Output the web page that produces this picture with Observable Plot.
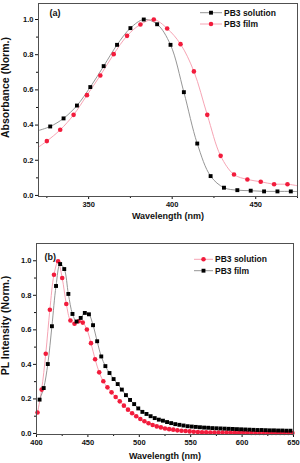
<!DOCTYPE html>
<html><head><meta charset="utf-8">
<script src="https://cdn.jsdelivr.net/npm/d3@7"></script>
<script src="https://cdn.jsdelivr.net/npm/@observablehq/plot@0.6"></script>
<style>
body{margin:0;background:#fff;}
#chart{width:300px;height:463px;overflow:hidden;}
svg{display:block;}
</style></head><body><div id="chart"></div>
<script>
// ---------- Panel (a): absorbance ----------
const absSolutionWavelength = [327,335,343,351,359,367,375,383,391,399,407,415,423,431,439,447,455,463,471];
const absSolution = [0.392,0.438,0.511,0.616,0.735,0.856,0.951,1.0,0.973,0.856,0.587,0.295,0.110,0.044,0.030,0.027,0.023,0.023,0.023];
const absFilmWavelength = [325,333,341,349,357,365,373,381,389,397,405,413,421,429,437,445,453,461,469];
const absFilm = [0.309,0.373,0.458,0.570,0.682,0.803,0.907,0.972,1.0,0.949,0.860,0.705,0.458,0.225,0.119,0.091,0.078,0.064,0.064];
// curve continuation to the frame edges (wavelength, value)
const absSolutionEnds = [[320,0.369],[475,0.022]];
const absFilmEnds = [[320,0.275],[475,0.055]];

// ---------- Panel (b): photoluminescence ----------
const plSolutionWavelength = [401,405,409,413,417,421,425,429,433,437,441,445,449,453,457,461,465,469,473,477,481,485,489,493,497,501,505,509,513,517,521,525,529,533,537,541,545,549,553,557,561,565,569,573,577,581,585,589,593,597,601,605,609,613,617,621,625,629,633,637,641,645,649];
const plSolution = [0.121,0.254,0.462,0.716,0.919,0.997,0.900,0.750,0.654,0.635,0.650,0.642,0.602,0.523,0.430,0.354,0.302,0.267,0.238,0.211,0.186,0.161,0.138,0.117,0.100,0.084,0.071,0.059,0.049,0.041,0.035,0.029,0.025,0.022,0.018,0.016,0.014,0.012,0.010,0.008,0.007,0.007,0.006,0.006,0.005,0.005,0.005,0.004,0.004,0.004,0.004,0.004,0.003,0.003,0.003,0.003,0.003,0.003,0.003,0.003,0.003,0.003,0.003];
const plFilmWavelength = [403,407,411,415,419,423,427,431,435,439,443,447,451,455,459,463,467,471,475,479,483,487,491,495,499,503,507,511,515,519,523,527,531,535,539,543,547,551,555,559,563,567,571,575,579,583,587,591,595,599,603,607,611,615,619,623,627,631,635,639,643,647];
const plFilm = [0.196,0.263,0.402,0.621,0.854,0.981,0.952,0.808,0.692,0.648,0.669,0.698,0.690,0.627,0.534,0.446,0.390,0.350,0.315,0.286,0.254,0.222,0.194,0.170,0.145,0.125,0.113,0.100,0.089,0.080,0.074,0.066,0.060,0.054,0.050,0.046,0.042,0.040,0.038,0.036,0.034,0.033,0.031,0.030,0.029,0.028,0.027,0.026,0.025,0.024,0.023,0.022,0.021,0.020,0.020,0.019,0.018,0.018,0.017,0.017,0.016,0.016];

const absXMajor = [350,400,450];
const absXMinor = [325,375,425,475];
const plXMajor = [400,450,500,550,600,650];
const plXMinor = [425,475,525,575,625];
const yMajor = [0,0.2,0.4,0.6,0.8,1.0];
const yMinor = [0.1,0.3,0.5,0.7,0.9];

const FONT = "'Liberation Sans', Arial, sans-serif";
const RED = "#f21c3c", PINK = "#f59aac", BLACK = "#000000", GRAY = "#8a8a8a";

const zip = (xs, ys) => xs.map((x, i) => ({x, y: ys[i]}));
const withEnds = (pts, ends) => ends ? [{x: ends[0][0], y: ends[0][1]}, ...pts, {x: ends[1][0], y: ends[1][1]}] : pts;

function panel(cfg) {
  const marks = [
    Plot.axisX({ticks: cfg.xMajor, tickSize: 3, tickPadding: 2, tickFormat: d => String(d), label: null, fontSize: 7.5}),
    Plot.axisX({ticks: cfg.xMinor, tickSize: 2, tickFormat: () => "", label: null}),
    Plot.axisY({ticks: yMajor, tickSize: 3, tickPadding: 2, tickFormat: d3.format(".1f"), label: null, fontSize: 7.5}),
    Plot.axisY({ticks: yMinor, tickSize: 2, tickFormat: () => "", label: null}),
  ];
  for (const s of cfg.series) {
    const pts = zip(s.xs, s.ys);
    marks.push(Plot.line(withEnds(pts, s.ends), {x: "x", y: "y", stroke: s.line, strokeWidth: 0.9, curve: "catmull-rom", clip: true}));
  }
  for (const s of cfg.series) {
    const pts = zip(s.xs, s.ys);
    marks.push(Plot.dot(pts, {x: "x", y: "y", symbol: s.symbol, fill: s.color, stroke: "none", r: s.symbol === "square" ? 2.2 : 2.3}));
  }
  marks.push(Plot.frame({stroke: "#505050", strokeWidth: 1}));
  marks.push(Plot.text([cfg.xLabel], {text: d => d, frameAnchor: "bottom", textAnchor: "middle", dy: cfg.xLabelDy, fontSize: 9, fontWeight: "bold", fill: "#111"}));
  marks.push(Plot.text([cfg.yLabel], {text: d => d, frameAnchor: "left", textAnchor: "middle", lineAnchor: "middle", dx: cfg.yLabelDx, dy: cfg.yLabelDy, rotate: -90, fontSize: 10.5, fontWeight: "bold", fill: "#111"}));
  marks.push(Plot.text([cfg.tag], {text: d => d, frameAnchor: "top-left", dx: cfg.tagDx, dy: cfg.tagDy, textAnchor: "start", fontSize: 9, fontWeight: "bold", fill: "#111"}));

  const svg = Plot.plot({
    width: 300, height: cfg.height,
    marginLeft: cfg.m[3], marginRight: cfg.m[1], marginTop: cfg.m[0], marginBottom: cfg.m[2],
    x: {domain: cfg.xDomain},
    y: {domain: cfg.yDomain},
    style: {fontFamily: FONT, fontWeight: "bold", fontSize: "7.5px", color: "#111", background: "white", overflow: "visible"},
    marks
  });

  // legend (line sample + marker + text)
  const g = d3.select(svg).append("g").attr("font-family", FONT).attr("font-weight", "bold").attr("font-size", 8.5).attr("text-anchor", "start");
  cfg.series.forEach((s, i) => {
    const y = cfg.legend.y + i * cfg.legend.step;
    g.append("line").attr("x1", cfg.legend.x0).attr("x2", cfg.legend.x1).attr("y1", y).attr("y2", y)
      .attr("stroke", s.line).attr("stroke-width", 0.9);
    g.append("path").attr("transform", `translate(${(cfg.legend.x0 + cfg.legend.x1) / 2},${y})`)
      .attr("d", d3.symbol(s.symbol === "square" ? d3.symbolSquare : d3.symbolCircle, s.symbol === "square" ? 15 : 16)())
      .attr("fill", s.color);
    g.append("text").attr("x", cfg.legend.x1 + 2).attr("y", y).attr("dy", "0.35em").attr("text-anchor", "start").attr("fill", "#111").text(s.name);
  });
  return svg;
}

const root = document.getElementById("chart");
root.append(panel({
  height: 230, m: [3, 3, 34, 38],
  xDomain: [320, 475], yDomain: [-0.006, 1.091],
  xMajor: absXMajor, xMinor: absXMinor,
  xLabel: "Wavelength (nm)", yLabel: "Absorbance (Norm.)",
  xLabelDy: 22, yLabelDx: -33, yLabelDy: -12.5,
  tag: "(a)", tagDx: 11, tagDy: 6,
  series: [
    {name: "PB3 solution", xs: absSolutionWavelength, ys: absSolution, ends: absSolutionEnds, symbol: "square", color: BLACK, line: GRAY},
    {name: "PB3 film", xs: absFilmWavelength, ys: absFilm, ends: absFilmEnds, symbol: "circle", color: RED, line: PINK}
  ],
  legend: {x0: 200, x1: 222, y: 12.7, step: 11.3}
}));
root.append(panel({
  height: 233, m: [13, 7, 29, 36],
  xDomain: [400, 650], yDomain: [-0.006, 1.10],
  xMajor: plXMajor, xMinor: plXMinor,
  xLabel: "Wavelength (nm)", yLabel: "PL Intensity (Norm.)",
  xLabelDy: 24, yLabelDx: -31, yLabelDy: -13.5,
  tag: "(b)", tagDx: 8, tagDy: 9.7,
  series: [
    {name: "PB3 solution", xs: plSolutionWavelength, ys: plSolution, ends: null, symbol: "circle", color: RED, line: PINK},
    {name: "PB3 film", xs: plFilmWavelength, ys: plFilm, ends: null, symbol: "square", color: BLACK, line: GRAY}
  ],
  legend: {x0: 194, x1: 213, y: 29.3, step: 11.4}
}));
</script></body></html>
